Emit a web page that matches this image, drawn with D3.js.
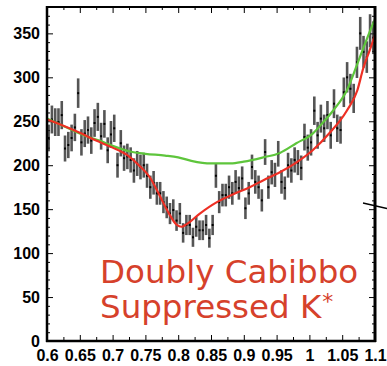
<!DOCTYPE html>
<html>
<head>
<meta charset="utf-8">
<script src="https://cdn.jsdelivr.net/npm/d3@7"></script>
<style>
  body { margin: 0; background: #fff; }
  .tickLabels text { font-family: "Liberation Sans", Arial, sans-serif; font-weight: bold; font-size: 16px; fill: #000; }
  .ticks line { stroke: #000; stroke-width: 1; }
  .ticks path { display: none; }
</style>
</head>
<body>
<script>
(function(){

//histogram bins (0.6 - 1.1, 100 bins of 0.005)
var binLow = 0.6, binWidth = 0.005;
var counts = [
  231, 252, 249, 249, 257, 219, 223, 231, 243, 282,
  226, 236, 240, 228, 248, 255, 233, 247, 217, 235,
  242, 200, 225, 208, 210, 206, 194, 202, 198, 200,
  188, 175, 180, 168, 168, 158, 152, 145, 149, 137,
  145, 123, 132, 132, 118, 130, 126, 126, 132, 117,
  132, 188, 158, 166, 166, 175, 168, 181, 174, 185,
  151, 168, 198, 181, 175, 160, 215, 175, 192, 189,
  213, 181, 174, 200, 194, 206, 203, 197, 232, 220,
  226, 262, 234, 253, 242, 257, 234, 270, 242, 240,
  283, 300, 287, 276, 317, 350, 329, 323, 353, 345
];

//fit curves (mass, value)
var fitMass = [0.6, 0.625, 0.65, 0.675, 0.7, 0.725, 0.74, 0.757, 0.77, 0.783, 0.798, 0.805, 0.813, 0.833, 0.859, 0.884, 0.909, 0.93, 0.955, 0.98, 1.005, 1.03, 1.057, 1.073, 1.082, 1.092, 1.1];
var fitTotal = [252, 245, 237, 228, 220, 210, 200, 186, 168, 149, 132, 130, 133, 145, 158, 167, 175, 183, 192, 203, 217, 236, 262, 285, 310, 331, 348];

var bkgMass = [0.6, 0.63, 0.66, 0.68, 0.7, 0.73, 0.75, 0.78, 0.8, 0.82, 0.85, 0.88, 0.9, 0.93, 0.955, 0.98, 1.005, 1.02, 1.036, 1.057, 1.077, 1.097, 1.1];
var bkgTotal = [253, 243, 233, 228, 222, 215, 213, 211, 209, 205, 202, 202, 204, 209, 214, 225, 236, 248, 262, 285, 323, 361, 366];

//axis ticks
var xTicks = [0.6, 0.65, 0.7, 0.75, 0.8, 0.85, 0.9, 0.95, 1, 1.05, 1.1];
var xMinor = [0.625, 0.675, 0.725, 0.775, 0.825, 0.875, 0.925, 0.975, 1.025, 1.075];
var yTicks = [0, 50, 100, 150, 200, 250, 300, 350];
var yMinor = [10, 20, 30, 40, 60, 70, 80, 90, 110, 120, 130, 140, 160, 170, 180, 190, 210, 220, 230, 240, 260, 270, 280, 290, 310, 320, 330, 340, 360, 370];

var titleLines = ["Doubly Cabibbo", "Suppressed K"];

window.onload = drawChart();

function drawChart(){

  var width = 387,
      height = 366;

  var svg = d3.select("body")
      .append("svg")
      .attr("width", width)
      .attr("height", height);

  var x = d3.scaleLinear().domain([0.6, 1.1]).range([47, 375]);
  var y = d3.scaleLinear().domain([0, 380]).range([341, 7]);

  drawAxes(svg, x, y);

  //error bars, errors are the usual sqrt(N) of the bin content
  var bins = counts.map(function(c, i){
    return {m: binLow + binWidth * (i + 0.5), n: c};
  });

  svg.selectAll(".errBar")
      .data(bins)
      .enter()
      .append("line")
      .attr("class", "errBar")
      .attr("x1", function(d){ return x(d.m); })
      .attr("x2", function(d){ return x(d.m); })
      .attr("y1", function(d){ return y(d.n - Math.sqrt(d.n)); })
      .attr("y2", function(d){ return y(d.n + Math.sqrt(d.n)); })
      .attr("stroke", "#2a2a2a")
      .attr("stroke-opacity", 0.8)
      .attr("stroke-width", 2.6);

  svg.selectAll(".marker")
      .data(bins)
      .enter()
      .append("rect")
      .attr("class", "marker")
      .attr("x", function(d){ return x(d.m) - 1; })
      .attr("y", function(d){ return y(d.n) - 1; })
      .attr("width", 2)
      .attr("height", 2)
      .attr("fill", "#000");

  //curves
  var line = d3.line()
      .x(function(d){ return x(d[0]); })
      .y(function(d){ return y(d[1]); })
      .curve(d3.curveMonotoneX);

  svg.append("path")
      .datum(d3.zip(bkgMass, bkgTotal))
      .attr("d", line)
      .attr("fill", "none")
      .attr("stroke", "#5ec53c")
      .attr("stroke-width", 2.2);

  svg.append("path")
      .datum(d3.zip(fitMass, fitTotal))
      .attr("d", line)
      .attr("fill", "none")
      .attr("stroke", "#ee2f24")
      .attr("stroke-width", 2.2);

  //frame
  svg.append("line").attr("x1", 47).attr("x2", 47).attr("y1", 6).attr("y2", 342)
      .attr("stroke", "#000").attr("stroke-width", 2.5);
  svg.append("line").attr("x1", 46).attr("x2", 376).attr("y1", 341).attr("y2", 341)
      .attr("stroke", "#000").attr("stroke-width", 2.5);
  svg.append("line").attr("x1", 46).attr("x2", 376).attr("y1", 7).attr("y2", 7)
      .attr("stroke", "#000").attr("stroke-width", 2);
  svg.append("line").attr("x1", 375).attr("x2", 375).attr("y1", 6).attr("y2", 342)
      .attr("stroke", "#000").attr("stroke-width", 3);

  //stray mark on the right edge
  svg.append("line").attr("x1", 363).attr("y1", 203).attr("x2", 387).attr("y2", 208.5)
      .attr("stroke", "#000").attr("stroke-width", 1.3);

  //label
  var label = svg.append("text")
      .attr("font-family", "DejaVu Sans, Verdana, sans-serif")
      .attr("font-size", "32.5px")
      .attr("fill", "#d6412b");

  label.append("tspan").attr("x", 100).attr("y", 283).text(titleLines[0]);
  label.append("tspan").attr("x", 100).attr("y", 318).text(titleLines[1]);
  label.append("tspan").attr("font-size", "22px").attr("dx", 1).attr("dy", -9).text("*");
};

function drawAxes(svg, x, y){

  //left axis, ticks inside
  svg.append("g")
      .attr("class", "ticks tickLabels")
      .attr("transform", "translate(47,0)")
      .call(d3.axisLeft(y).tickValues(yTicks).tickSizeInner(-6).tickSizeOuter(0).tickPadding(7));
  svg.append("g")
      .attr("class", "ticks")
      .attr("transform", "translate(47,0)")
      .call(d3.axisLeft(y).tickValues(yMinor).tickSizeInner(-3).tickSizeOuter(0).tickFormat(""));

  //right axis
  svg.append("g")
      .attr("class", "ticks")
      .attr("transform", "translate(375,0)")
      .call(d3.axisRight(y).tickValues(yTicks).tickSizeInner(-6).tickSizeOuter(0).tickFormat(""));
  svg.append("g")
      .attr("class", "ticks")
      .attr("transform", "translate(375,0)")
      .call(d3.axisRight(y).tickValues(yMinor).tickSizeInner(-3).tickSizeOuter(0).tickFormat(""));

  //bottom axis
  svg.append("g")
      .attr("class", "ticks tickLabels")
      .attr("transform", "translate(0,341)")
      .call(d3.axisBottom(x).tickValues(xTicks).tickSizeInner(-6).tickSizeOuter(0).tickPadding(9)
        .tickFormat(function(d){ return String(d); }));
  svg.append("g")
      .attr("class", "ticks")
      .attr("transform", "translate(0,341)")
      .call(d3.axisBottom(x).tickValues(xMinor).tickSizeInner(-4).tickSizeOuter(0).tickFormat(""));

  //top axis
  svg.append("g")
      .attr("class", "ticks")
      .attr("transform", "translate(0,7)")
      .call(d3.axisTop(x).tickValues(xTicks).tickSizeInner(-6).tickSizeOuter(0).tickFormat(""));
  svg.append("g")
      .attr("class", "ticks")
      .attr("transform", "translate(0,7)")
      .call(d3.axisTop(x).tickValues(xMinor).tickSizeInner(-3).tickSizeOuter(0).tickFormat(""));
};

})();
</script>
</body>
</html>
